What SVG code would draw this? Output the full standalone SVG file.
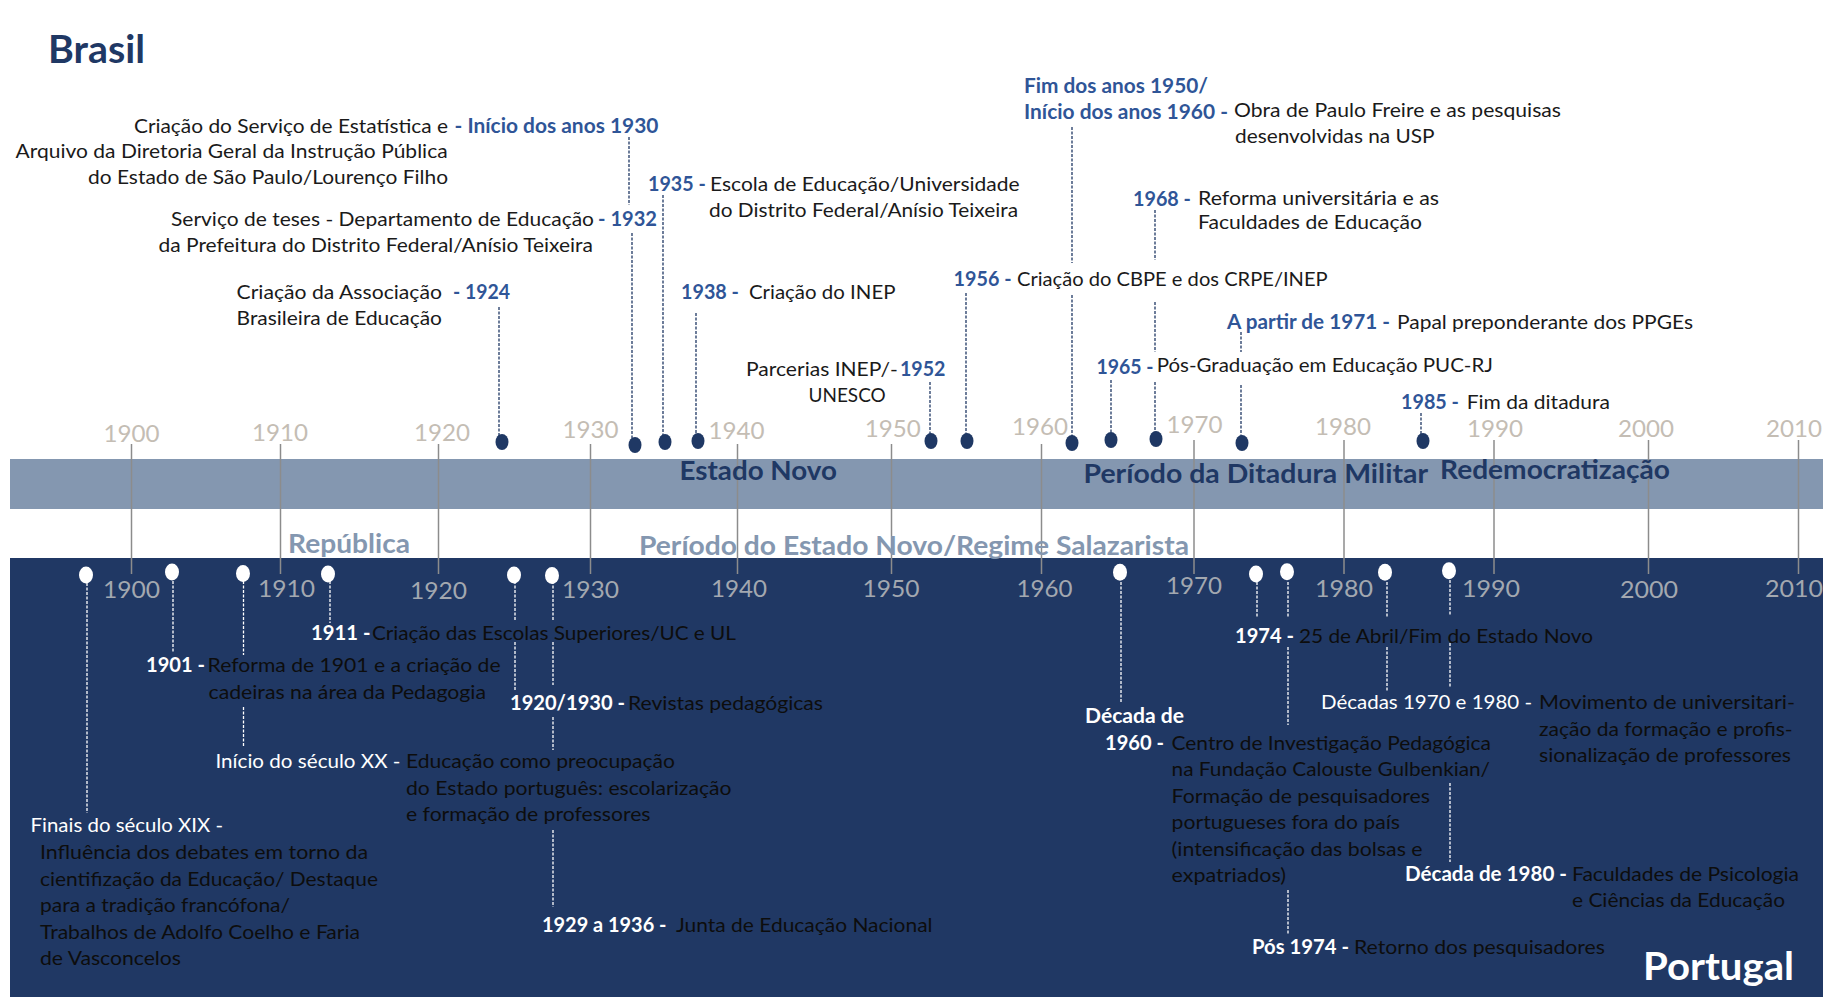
<svg xmlns="http://www.w3.org/2000/svg" width="1823" height="997" viewBox="0 0 1823 997">
<style>
text{font-family:Lato,"Liberation Sans",sans-serif;font-size:20px;fill:#1a1a1a}
.yb{font-weight:bold;fill:#2F5597}
.pw{fill:#ffffff}
.pb{fill:#ffffff;font-weight:bold}
.pd{fill:#0d0d0d}
.ax{font-size:24px;fill:#C4BDB4}
.axb{font-size:24px;fill:#A3A8B0}
.band{font-size:27px;font-weight:bold;fill:#1F3864}
.per{font-size:27px;font-weight:bold;fill:#8497B0}
.title{font-size:39px;font-weight:bold;fill:#1F3864}
.titlew{font-size:39px;font-weight:bold;fill:#ffffff}
.grid{stroke:#8C8C8C;stroke-width:1.5}
.db{stroke:#1F3864;stroke-width:1.3;stroke-dasharray:3 1.5;fill:none}
.dw{stroke:#ffffff;stroke-width:1.3;stroke-dasharray:3 1.5;fill:none}
.dotb{fill:#1F3864}
.dotw{fill:#ffffff}
</style>
<rect x="0" y="0" width="1823" height="997" fill="#ffffff"/>
<g id="bands">
<rect x="10" y="459" width="1813" height="50" fill="#8497B0"/>
<rect x="10" y="558" width="1813" height="439" fill="#203864"/>
</g>
<g id="grid">
<line class="grid" x1="131.5" y1="444" x2="131.5" y2="574"/>
<line class="grid" x1="280.5" y1="444" x2="280.5" y2="574"/>
<line class="grid" x1="438.5" y1="444" x2="438.5" y2="574"/>
<line class="grid" x1="590.5" y1="444" x2="590.5" y2="574"/>
<line class="grid" x1="737.5" y1="444" x2="737.5" y2="574"/>
<line class="grid" x1="891.5" y1="444" x2="891.5" y2="574"/>
<line class="grid" x1="1041.5" y1="444" x2="1041.5" y2="574"/>
<line class="grid" x1="1194" y1="440" x2="1194" y2="574"/>
<line class="grid" x1="1344" y1="440" x2="1344" y2="574"/>
<line class="grid" x1="1494" y1="440" x2="1494" y2="574"/>
<line class="grid" x1="1648.5" y1="440" x2="1648.5" y2="574"/>
<line class="grid" x1="1798.5" y1="440" x2="1798.5" y2="574"/>
</g>
<g id="axis-top">
<text class="ax" x="103.6" y="442" textLength="56" lengthAdjust="spacingAndGlyphs">1900</text>
<text class="ax" x="252" y="441" textLength="56" lengthAdjust="spacingAndGlyphs">1910</text>
<text class="ax" x="414" y="441" textLength="56" lengthAdjust="spacingAndGlyphs">1920</text>
<text class="ax" x="562.5" y="438" textLength="56" lengthAdjust="spacingAndGlyphs">1930</text>
<text class="ax" x="708.5" y="439" textLength="56" lengthAdjust="spacingAndGlyphs">1940</text>
<text class="ax" x="864.7" y="437" textLength="56" lengthAdjust="spacingAndGlyphs">1950</text>
<text class="ax" x="1012" y="435" textLength="56" lengthAdjust="spacingAndGlyphs">1960</text>
<text class="ax" x="1166.5" y="433" textLength="56" lengthAdjust="spacingAndGlyphs">1970</text>
<text class="ax" x="1315" y="435" textLength="56" lengthAdjust="spacingAndGlyphs">1980</text>
<text class="ax" x="1467" y="437" textLength="56" lengthAdjust="spacingAndGlyphs">1990</text>
<text class="ax" x="1618" y="437" textLength="56" lengthAdjust="spacingAndGlyphs">2000</text>
<text class="ax" x="1766" y="437" textLength="56" lengthAdjust="spacingAndGlyphs">2010</text>
</g>
<g id="axis-bottom">
<text class="axb" x="103" y="598" textLength="57" lengthAdjust="spacingAndGlyphs">1900</text>
<text class="axb" x="258" y="597" textLength="57" lengthAdjust="spacingAndGlyphs">1910</text>
<text class="axb" x="410" y="599" textLength="57" lengthAdjust="spacingAndGlyphs">1920</text>
<text class="axb" x="562" y="598" textLength="57" lengthAdjust="spacingAndGlyphs">1930</text>
<text class="axb" x="711" y="597" textLength="56" lengthAdjust="spacingAndGlyphs">1940</text>
<text class="axb" x="862.5" y="597" textLength="57" lengthAdjust="spacingAndGlyphs">1950</text>
<text class="axb" x="1016.5" y="597" textLength="56" lengthAdjust="spacingAndGlyphs">1960</text>
<text class="axb" x="1166" y="594" textLength="56" lengthAdjust="spacingAndGlyphs">1970</text>
<text class="axb" x="1315" y="597" textLength="58" lengthAdjust="spacingAndGlyphs">1980</text>
<text class="axb" x="1462" y="597" textLength="58" lengthAdjust="spacingAndGlyphs">1990</text>
<text class="axb" x="1620" y="598" textLength="58" lengthAdjust="spacingAndGlyphs">2000</text>
<text class="axb" x="1765" y="597" textLength="58" lengthAdjust="spacingAndGlyphs">2010</text>
</g>
<g id="periods">
<text class="band" x="679.5" y="480" textLength="157.5" lengthAdjust="spacingAndGlyphs">Estado Novo</text>
<text class="band" x="1083.5" y="483" textLength="344.5" lengthAdjust="spacingAndGlyphs">Período da Ditadura Militar</text>
<text class="band" x="1440" y="479" textLength="230" lengthAdjust="spacingAndGlyphs">Redemocratização</text>
<text class="per" x="288" y="553" textLength="122" lengthAdjust="spacingAndGlyphs">República</text>
<text class="per" x="639" y="555" textLength="550" lengthAdjust="spacingAndGlyphs">Período do Estado Novo/Regime Salazarista</text>
</g>
<g id="titles">
<text class="title" x="48" y="63" textLength="97" lengthAdjust="spacingAndGlyphs">Brasil</text>
<text class="titlew" x="1643" y="980" textLength="151" lengthAdjust="spacingAndGlyphs">Portugal</text>
</g>
<g id="connectors">
<line class="db" x1="499" y1="307" x2="499" y2="436"/>
<line class="db" x1="629" y1="137" x2="629" y2="205"/>
<line class="db" x1="632" y1="233" x2="632" y2="439"/>
<line class="db" x1="663" y1="195" x2="663" y2="436"/>
<line class="db" x1="696" y1="313" x2="696" y2="435"/>
<line class="db" x1="930" y1="382" x2="930" y2="435"/>
<line class="db" x1="966" y1="293" x2="966" y2="435"/>
<line class="db" x1="1072" y1="127" x2="1072" y2="263"/>
<line class="db" x1="1072" y1="295" x2="1072" y2="437"/>
<line class="db" x1="1111" y1="380" x2="1111" y2="434"/>
<line class="db" x1="1155" y1="210" x2="1155" y2="260"/>
<line class="db" x1="1155" y1="302" x2="1155" y2="352"/>
<line class="db" x1="1155" y1="382" x2="1155" y2="433"/>
<line class="db" x1="1241" y1="332" x2="1241" y2="352"/>
<line class="db" x1="1241" y1="385" x2="1241" y2="437"/>
<line class="db" x1="1421" y1="413" x2="1421" y2="435"/>
<line class="dw" x1="87" y1="583" x2="87" y2="813"/>
<line class="dw" x1="173" y1="581" x2="173" y2="653"/>
<line class="dw" x1="243.5" y1="581" x2="243.5" y2="655"/>
<line class="dw" x1="243.5" y1="707" x2="243.5" y2="747"/>
<line class="dw" x1="330" y1="581" x2="330" y2="623"/>
<line class="dw" x1="515" y1="581" x2="515" y2="620"/>
<line class="dw" x1="515" y1="642" x2="515" y2="690"/>
<line class="dw" x1="553" y1="581" x2="553" y2="621"/>
<line class="dw" x1="553" y1="642" x2="553" y2="685"/>
<line class="dw" x1="553" y1="717" x2="553" y2="750"/>
<line class="dw" x1="553" y1="830" x2="553" y2="907"/>
<line class="dw" x1="1121" y1="582" x2="1121" y2="703"/>
<line class="dw" x1="1257" y1="582" x2="1257" y2="618"/>
<line class="dw" x1="1288" y1="582" x2="1288" y2="618"/>
<line class="dw" x1="1288" y1="647" x2="1288" y2="725"/>
<line class="dw" x1="1288" y1="890" x2="1288" y2="935"/>
<line class="dw" x1="1387" y1="582" x2="1387" y2="618"/>
<line class="dw" x1="1387" y1="647" x2="1387" y2="692"/>
<line class="dw" x1="1450" y1="580" x2="1450" y2="615"/>
<line class="dw" x1="1450" y1="643" x2="1450" y2="687"/>
<line class="dw" x1="1450" y1="783" x2="1450" y2="862"/>
</g>
<g id="dots">
<ellipse class="dotb" cx="502" cy="442" rx="6.5" ry="8"/>
<ellipse class="dotb" cx="635" cy="445" rx="6.5" ry="8"/>
<ellipse class="dotb" cx="665" cy="442" rx="6.5" ry="8"/>
<ellipse class="dotb" cx="698" cy="441" rx="6.5" ry="8"/>
<ellipse class="dotb" cx="931" cy="441" rx="6.5" ry="8"/>
<ellipse class="dotb" cx="967" cy="441" rx="6.5" ry="8"/>
<ellipse class="dotb" cx="1072" cy="443" rx="6.5" ry="8"/>
<ellipse class="dotb" cx="1111" cy="440" rx="6.5" ry="8"/>
<ellipse class="dotb" cx="1156" cy="439" rx="6.5" ry="8"/>
<ellipse class="dotb" cx="1242" cy="443" rx="6.5" ry="8"/>
<ellipse class="dotb" cx="1423" cy="441" rx="6.5" ry="8"/>
<ellipse class="dotw" cx="86" cy="575" rx="7" ry="8.5"/>
<ellipse class="dotw" cx="172" cy="572" rx="7" ry="8.5"/>
<ellipse class="dotw" cx="243" cy="573.5" rx="7" ry="8.5"/>
<ellipse class="dotw" cx="328" cy="574" rx="7" ry="8.5"/>
<ellipse class="dotw" cx="514" cy="575" rx="7" ry="8.5"/>
<ellipse class="dotw" cx="552" cy="575.5" rx="7" ry="8.5"/>
<ellipse class="dotw" cx="1120" cy="572.3" rx="7" ry="8.5"/>
<ellipse class="dotw" cx="1256" cy="574" rx="7" ry="8.5"/>
<ellipse class="dotw" cx="1287" cy="571.7" rx="7" ry="8.5"/>
<ellipse class="dotw" cx="1385" cy="572.3" rx="7" ry="8.5"/>
<ellipse class="dotw" cx="1449" cy="570.7" rx="7" ry="8.5"/>
</g>
<g id="br-1930">
<text x="134" y="133" textLength="314" lengthAdjust="spacingAndGlyphs">Criação do Serviço de Estatística e</text>
<text class="yb" x="454.5" y="133" textLength="204" lengthAdjust="spacingAndGlyphs">- Início dos anos 1930</text>
<text x="15.6" y="158" textLength="432" lengthAdjust="spacingAndGlyphs">Arquivo da Diretoria Geral da Instrução Pública</text>
<text x="88" y="184" textLength="360" lengthAdjust="spacingAndGlyphs">do Estado de São Paulo/Lourenço Filho</text>
</g>
<g id="br-1932">
<text x="171" y="226" textLength="423" lengthAdjust="spacingAndGlyphs">Serviço de teses - Departamento de Educação</text>
<text class="yb" x="598" y="226" textLength="59" lengthAdjust="spacingAndGlyphs">- 1932</text>
<text x="158.5" y="252" textLength="434.5" lengthAdjust="spacingAndGlyphs">da Prefeitura do Distrito Federal/Anísio Teixeira</text>
</g>
<g id="br-1924">
<text x="236.6" y="299" textLength="205.4" lengthAdjust="spacingAndGlyphs">Criação da Associação</text>
<text class="yb" x="453" y="299" textLength="57" lengthAdjust="spacingAndGlyphs">- 1924</text>
<text x="236.6" y="325" textLength="205.4" lengthAdjust="spacingAndGlyphs">Brasileira de Educação</text>
</g>
<g id="br-1935">
<text class="yb" x="648" y="191" textLength="57.8" lengthAdjust="spacingAndGlyphs">1935 -</text>
<text x="710" y="191" textLength="309.6" lengthAdjust="spacingAndGlyphs">Escola de Educação/Universidade</text>
<text x="709" y="217" textLength="309" lengthAdjust="spacingAndGlyphs">do Distrito Federal/Anísio Teixeira</text>
</g>
<g id="br-1938">
<text class="yb" x="681" y="299" textLength="58" lengthAdjust="spacingAndGlyphs">1938 -</text>
<text x="749" y="299" textLength="146.5" lengthAdjust="spacingAndGlyphs">Criação do INEP</text>
</g>
<g id="br-1956">
<text class="yb" x="953.6" y="286" textLength="58" lengthAdjust="spacingAndGlyphs">1956 -</text>
<text x="1017" y="286" textLength="310.7" lengthAdjust="spacingAndGlyphs">Criação do CBPE e dos CRPE/INEP</text>
</g>
<g id="br-1952">
<text x="746" y="376" textLength="151.8" lengthAdjust="spacingAndGlyphs">Parcerias INEP/-</text>
<text class="yb" x="900" y="376" textLength="45.5" lengthAdjust="spacingAndGlyphs">1952</text>
<text x="808.5" y="402" textLength="77.2" lengthAdjust="spacingAndGlyphs">UNESCO</text>
</g>
<g id="br-1960">
<text class="yb" x="1024" y="93" textLength="184" lengthAdjust="spacingAndGlyphs">Fim dos anos 1950/</text>
<text class="yb" x="1024" y="119" textLength="204" lengthAdjust="spacingAndGlyphs">Início dos anos 1960 -</text>
<text x="1234" y="117" textLength="327" lengthAdjust="spacingAndGlyphs">Obra de Paulo Freire e as pesquisas</text>
<text x="1235" y="143" textLength="199.6" lengthAdjust="spacingAndGlyphs">desenvolvidas na USP</text>
</g>
<g id="br-1968">
<text class="yb" x="1133" y="206" textLength="58" lengthAdjust="spacingAndGlyphs">1968 -</text>
<text x="1198" y="205" textLength="241" lengthAdjust="spacingAndGlyphs">Reforma universitária e as</text>
<text x="1198" y="229" textLength="224" lengthAdjust="spacingAndGlyphs">Faculdades de Educação</text>
</g>
<g id="br-1971">
<text class="yb" x="1227" y="329" textLength="163" lengthAdjust="spacingAndGlyphs">A partir de 1971 -</text>
<text x="1397" y="329" textLength="296" lengthAdjust="spacingAndGlyphs">Papal preponderante dos PPGEs</text>
</g>
<g id="br-1965">
<text class="yb" x="1096.4" y="374" textLength="57.2" lengthAdjust="spacingAndGlyphs">1965 -</text>
<text x="1156.7" y="372" textLength="336.3" lengthAdjust="spacingAndGlyphs">Pós-Graduação em Educação PUC-RJ</text>
</g>
<g id="br-1985">
<text class="yb" x="1401" y="409" textLength="58" lengthAdjust="spacingAndGlyphs">1985 -</text>
<text x="1466.7" y="409" textLength="143.3" lengthAdjust="spacingAndGlyphs">Fim da ditadura</text>
</g>
<g id="pt-xix">
<text class="pw" x="30.6" y="832" textLength="192.4" lengthAdjust="spacingAndGlyphs">Finais do século XIX -</text>
<text class="pd" x="40" y="859" textLength="328" lengthAdjust="spacingAndGlyphs">Influência dos debates em torno da</text>
<text class="pd" x="40" y="886" textLength="338" lengthAdjust="spacingAndGlyphs">cientifização da Educação/ Destaque</text>
<text class="pd" x="40" y="912" textLength="250" lengthAdjust="spacingAndGlyphs">para a tradição francófona/</text>
<text class="pd" x="40" y="939" textLength="320" lengthAdjust="spacingAndGlyphs">Trabalhos de Adolfo Coelho e Faria</text>
<text class="pd" x="40" y="965" textLength="141" lengthAdjust="spacingAndGlyphs">de Vasconcelos</text>
</g>
<g id="pt-1901">
<text class="pb" x="146" y="672" textLength="59" lengthAdjust="spacingAndGlyphs">1901 -</text>
<text class="pd" x="207.6" y="672" textLength="293" lengthAdjust="spacingAndGlyphs">Reforma de 1901 e a criação de</text>
<text class="pd" x="208.5" y="699" textLength="277.5" lengthAdjust="spacingAndGlyphs">cadeiras na área da Pedagogia</text>
</g>
<g id="pt-xx">
<text class="pw" x="215.5" y="768" textLength="185" lengthAdjust="spacingAndGlyphs">Início do século XX -</text>
<text class="pd" x="406" y="768" textLength="269" lengthAdjust="spacingAndGlyphs">Educação como preocupação</text>
<text class="pd" x="406" y="795" textLength="325.5" lengthAdjust="spacingAndGlyphs">do Estado português: escolarização</text>
<text class="pd" x="406" y="821" textLength="244.5" lengthAdjust="spacingAndGlyphs">e formação de professores</text>
</g>
<g id="pt-1911">
<text class="pb" x="311" y="640" textLength="59.5" lengthAdjust="spacingAndGlyphs">1911 -</text>
<text class="pd" x="372" y="640" textLength="364" lengthAdjust="spacingAndGlyphs">Criação das Escolas Superiores/UC e UL</text>
</g>
<g id="pt-1920">
<text class="pb" x="510" y="710" textLength="115" lengthAdjust="spacingAndGlyphs">1920/1930 -</text>
<text class="pd" x="628" y="710" textLength="195" lengthAdjust="spacingAndGlyphs">Revistas pedagógicas</text>
</g>
<g id="pt-1929">
<text class="pb" x="542" y="932" textLength="124.5" lengthAdjust="spacingAndGlyphs">1929 a 1936 -</text>
<text class="pd" x="676" y="932" textLength="256.5" lengthAdjust="spacingAndGlyphs">Junta de Educação Nacional</text>
</g>
<g id="pt-1960">
<text class="pb" x="1085" y="723" textLength="99" lengthAdjust="spacingAndGlyphs">Década de</text>
<text class="pb" x="1105" y="750" textLength="59" lengthAdjust="spacingAndGlyphs">1960 -</text>
<text class="pd" x="1171.6" y="750" textLength="319.4" lengthAdjust="spacingAndGlyphs">Centro de Investigação Pedagógica</text>
<text class="pd" x="1171.6" y="776" textLength="318.4" lengthAdjust="spacingAndGlyphs">na Fundação Calouste Gulbenkian/</text>
<text class="pd" x="1171.6" y="803" textLength="258.4" lengthAdjust="spacingAndGlyphs">Formação de pesquisadores</text>
<text class="pd" x="1171.6" y="829" textLength="228.4" lengthAdjust="spacingAndGlyphs">portugueses fora do país</text>
<text class="pd" x="1171.6" y="856" textLength="251" lengthAdjust="spacingAndGlyphs">(intensificação das bolsas e</text>
<text class="pd" x="1171.6" y="882" textLength="114.4" lengthAdjust="spacingAndGlyphs">expatriados)</text>
</g>
<g id="pt-1974">
<text class="pb" x="1235" y="643" textLength="59" lengthAdjust="spacingAndGlyphs">1974 -</text>
<text class="pd" x="1299" y="643" textLength="294" lengthAdjust="spacingAndGlyphs">25 de Abril/Fim do Estado Novo</text>
</g>
<g id="pt-7080">
<text class="pw" x="1321" y="709" textLength="211" lengthAdjust="spacingAndGlyphs">Décadas 1970 e 1980 -</text>
<text class="pd" x="1539" y="709" textLength="256" lengthAdjust="spacingAndGlyphs">Movimento de  universitari-</text>
<text class="pd" x="1539" y="736" textLength="253.6" lengthAdjust="spacingAndGlyphs">zação da formação e profis-</text>
<text class="pd" x="1539" y="762" textLength="252" lengthAdjust="spacingAndGlyphs">sionalização de professores</text>
</g>
<g id="pt-1980">
<text class="pb" x="1405" y="881" textLength="162" lengthAdjust="spacingAndGlyphs">Década de 1980 -</text>
<text class="pd" x="1572" y="881" textLength="227" lengthAdjust="spacingAndGlyphs">Faculdades de Psicologia</text>
<text class="pd" x="1572" y="907" textLength="213" lengthAdjust="spacingAndGlyphs">e Ciências da Educação</text>
</g>
<g id="pt-pos1974">
<text class="pb" x="1252" y="954" textLength="97" lengthAdjust="spacingAndGlyphs">Pós 1974 -</text>
<text class="pd" x="1354" y="954" textLength="251" lengthAdjust="spacingAndGlyphs">Retorno dos pesquisadores</text>
</g>
</svg>
